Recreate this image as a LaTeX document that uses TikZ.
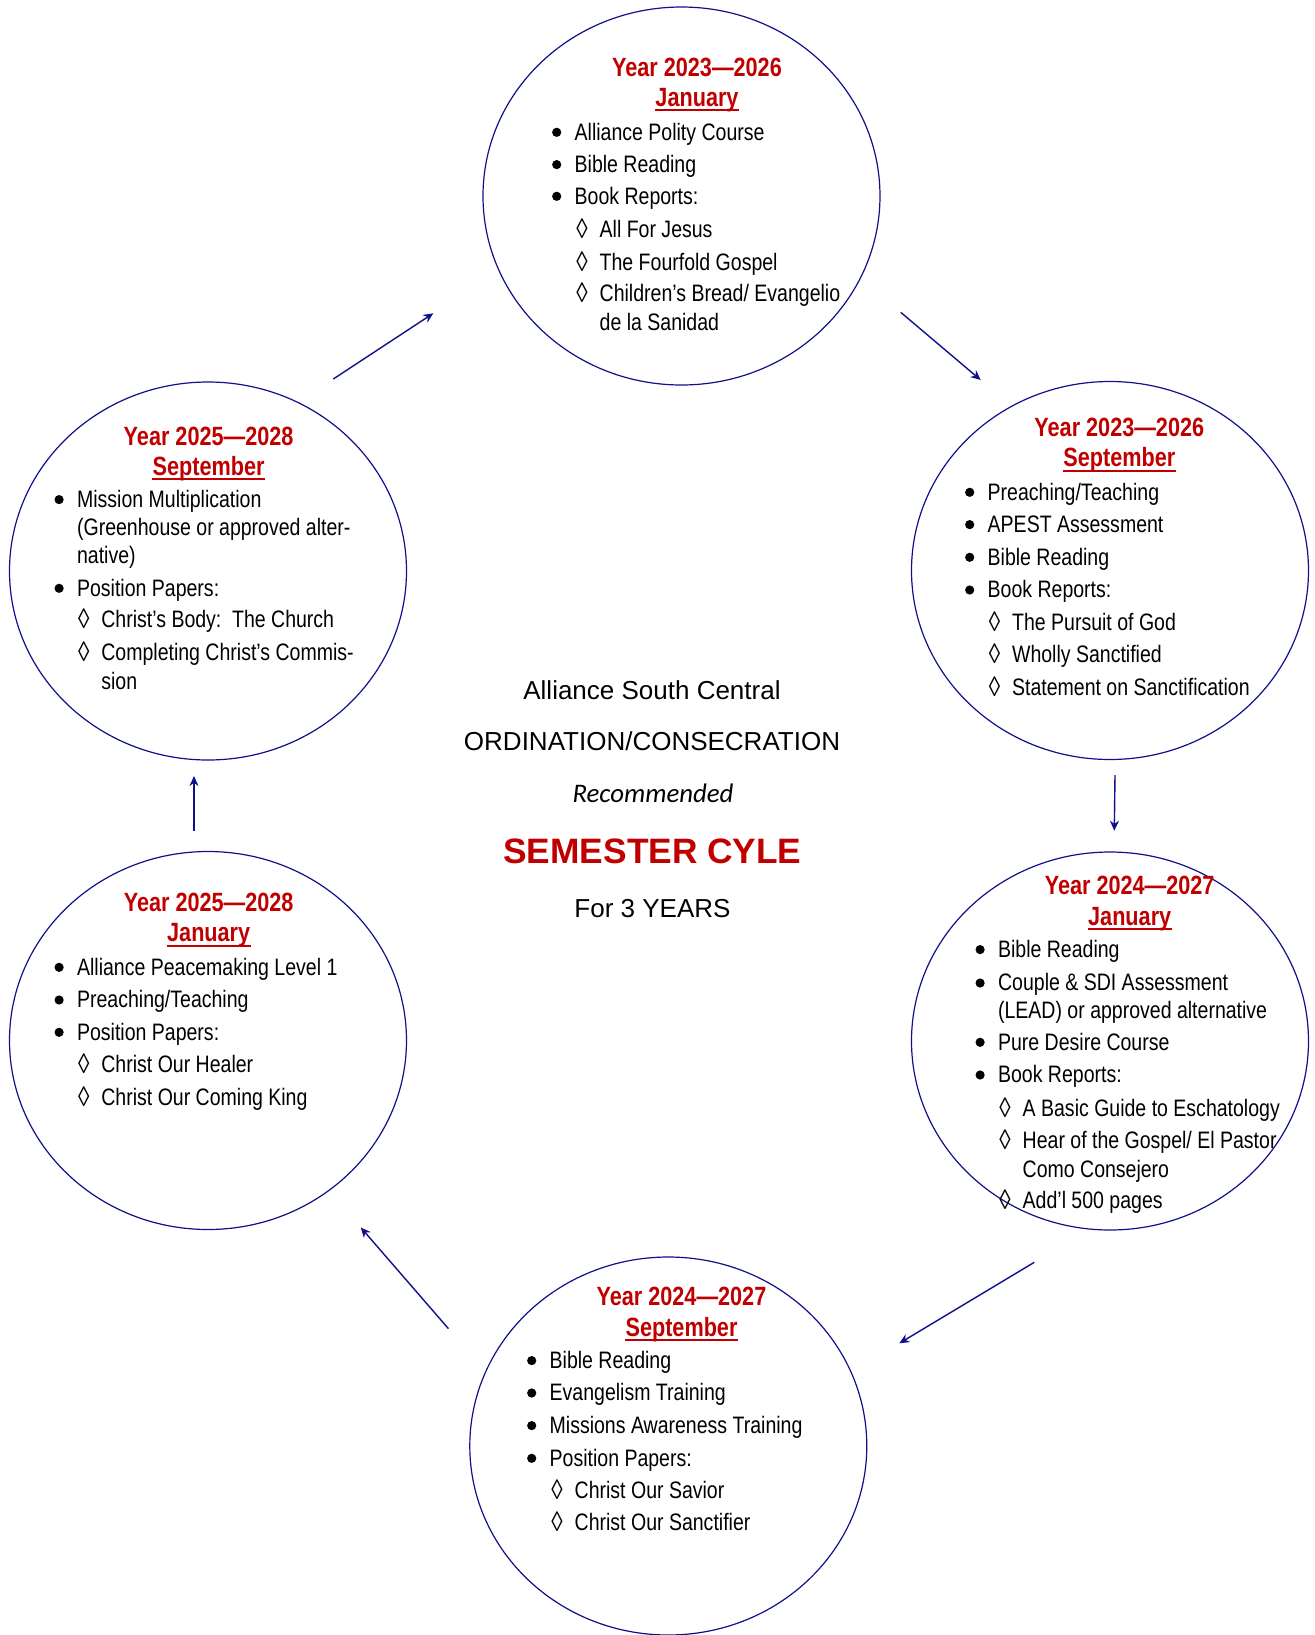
\documentclass[tikz,border=0pt]{standalone}
\usepackage{fontspec}
\setmainfont{Liberation Sans}[FakeStretch=0.82]
\newfontfamily\widefont{Liberation Sans}
\newfontfamily\calfont{Carlito}
\usetikzlibrary{shapes.geometric,arrows.meta}
\definecolor{cnavy}{HTML}{10108A}
\definecolor{cred}{HTML}{C00000}
\tikzset{
  semcirc/.style={draw=cnavy, line width=0.6pt, ellipse, inner sep=0pt,
    minimum width=198.5pt, minimum height=189pt},
  itm/.style={anchor=base west, inner sep=0pt, font=\fontsize{11.9pt}{14pt}\selectfont},
  ttl/.style={anchor=base, inner sep=0pt, text=cred, font=\fontsize{13.2pt}{15pt}\selectfont\bfseries},
  ctr/.style={anchor=base, inner sep=0pt, font=\widefont\fontsize{13pt}{15pt}\selectfont},
  cyc/.style={draw=cnavy, line width=0.7pt, -{Stealth[length=5pt,width=4.5pt]}},
  uline/.style={draw=cred, line width=1pt}
}
\newcommand\bulitem[4]{\node[itm] (#1) at (#2,#3) {#4};
  \fill ([xshift=-8.8pt,yshift=3.85pt]#1.base west) circle (4.6);}
\newcommand\diaitem[4]{\node[itm] (#1) at (#2,#3) {\llap{\makebox[8.8pt]{\raisebox{-0.6pt}{\fontsize{14pt}{14pt}\selectfont ◊}}\hspace{4.4pt}}#4};}
\newcommand\contline[4]{\node[itm] (#1) at (#2,#3) {#4};}
\newcommand\semtitle[6]{% prefix, x, y1, y2, year, month
  \node[ttl] (#1y) at (#2,#3) {#5};
  \node[ttl] (#1m) at (#2,#4) {#6};
  \draw[uline] ([yshift=-2pt]#1m.base west) -- ([yshift=-2pt]#1m.base east);}
\begin{document}
\begin{tikzpicture}[x=0.5pt,y=-0.5pt]
\useasboundingbox (0,0) rectangle (1314,1635);

% circles
\node[semcirc] (cT)  at (681.5,196) {};
\node[semcirc] (cRU) at (1110,570.5) {};
\node[semcirc] (cLU) at (208,571) {};
\node[semcirc] (cRL) at (1110,1041) {};
\node[semcirc] (cLL) at (208,1040.5) {};
\node[semcirc] (cB)  at (668.3,1446) {};

% top circle
\semtitle{T}{697}{76.7}{106}{Year 2023—2026}{January}
\bulitem{T1}{574.3}{140}{Alliance Polity Course}
\bulitem{T2}{574.3}{172.3}{Bible Reading}
\bulitem{T3}{574.3}{204}{Book Reports:}
\diaitem{T4}{599.3}{237.3}{All For Jesus}
\diaitem{T5}{599.3}{270}{The Fourfold Gospel}
\diaitem{T6}{599.3}{301.7}{Children’s Bread/ Evangelio}
\contline{T7}{599.3}{330.7}{de la Sanidad}

% right upper
\semtitle{RU}{1119.3}{436.7}{466.7}{Year 2023—2026}{September}
\bulitem{RU1}{987.3}{500}{Preaching/Teaching}
\bulitem{RU2}{987.3}{532.3}{APEST Assessment}
\bulitem{RU3}{987.3}{565}{Bible Reading}
\bulitem{RU4}{987.3}{597.7}{Book Reports:}
\diaitem{RU5}{1011.7}{630}{The Pursuit of God}
\diaitem{RU6}{1011.7}{662.7}{Wholly Sanctified}
\diaitem{RU7}{1011.7}{695}{Statement on Sanctification}

% left upper
\semtitle{LU}{208.6}{445}{475}{Year 2025—2028}{September}
\bulitem{LU1}{76.7}{507.3}{Mission Multiplication}
\contline{LU2}{76.7}{535.7}{(Greenhouse or approved alter-}
\contline{LU3}{76.7}{563.3}{native)}
\bulitem{LU4}{76.7}{596}{Position Papers:}
\diaitem{LU5}{101}{627.3}{Christ’s Body:\hspace{0.45em}The Church}
\diaitem{LU6}{101}{660}{Completing Christ’s Commis-}
\contline{LU7}{101}{689}{sion}

% right lower
\semtitle{RL}{1129.7}{894.3}{925}{Year 2024—2027}{January}
\bulitem{RL1}{997.7}{957.3}{Bible Reading}
\bulitem{RL2}{997.7}{990.7}{Couple \& SDI Assessment}
\contline{RL3}{997.7}{1018.3}{(LEAD) or approved alternative}
\bulitem{RL4}{997.7}{1050}{Pure Desire Course}
\bulitem{RL5}{997.7}{1082.7}{Book Reports:}
\diaitem{RL6}{1022.3}{1116}{A Basic Guide to Eschatology}
\diaitem{RL7}{1022.3}{1148.3}{Hear of the Gospel/ El Pastor}
\contline{RL8}{1022.3}{1177.3}{Como Consejero}
\diaitem{RL9}{1022.3}{1208.3}{Add’l 500 pages}

% left lower
\semtitle{LL}{208.7}{911}{941.7}{Year 2025—2028}{January}
\bulitem{LL1}{76.7}{975}{Alliance Peacemaking Level 1}
\bulitem{LL2}{76.7}{1007.7}{Preaching/Teaching}
\bulitem{LL3}{76.7}{1040}{Position Papers:}
\diaitem{LL4}{101}{1072.7}{Christ Our Healer}
\diaitem{LL5}{101}{1105.7}{Christ Our Coming King}

% bottom
\semtitle{B}{681.5}{1305.7}{1336}{Year 2024—2027}{September}
\bulitem{B1}{549.3}{1368.3}{Bible Reading}
\bulitem{B2}{549.3}{1400.7}{Evangelism Training}
\bulitem{B3}{549.3}{1433.3}{Missions Awareness Training}
\bulitem{B4}{549.3}{1466}{Position Papers:}
\diaitem{B5}{574.3}{1498.3}{Christ Our Savior}
\diaitem{B6}{574.3}{1530.7}{Christ Our Sanctifier}

% centre text
\node[ctr] (h1) at (652,699) {Alliance South Central};
\node[ctr] (h2) at (652,750) {ORDINATION/CONSECRATION};
\node[ctr, font=\calfont\itshape\fontsize{13.4pt}{15pt}\selectfont] (h3) at (653,802.7) {Recommended};
\node[ctr, text=cred, font=\widefont\bfseries\fontsize{17.65pt}{20pt}\selectfont] (h4) at (652.5,863) {SEMESTER CYLE};
\node[ctr] (h5) at (652.5,917.7) {For 3 YEARS};

% arrow end points
\coordinate (a1s) at (333.3,379);   \coordinate (a1e) at (433.3,313.3);
\coordinate (a2s) at (900.7,312.3); \coordinate (a2e) at (980.7,380);
\coordinate (a3s) at (1115,775);    \coordinate (a3e) at (1114.3,830.7);
\coordinate (a4s) at (1034.3,1262.3); \coordinate (a4e) at (899.3,1343.3);
\coordinate (a5s) at (448.4,1328.6); \coordinate (a5e) at (360.8,1227.5);
\coordinate (a6s) at (194,831);     \coordinate (a6e) at (194,776);
\draw[cyc] (a1s) -- (a1e);
\draw[cyc] (a2s) -- (a2e);
\draw[cyc] (a3s) -- (a3e);
\draw[cyc] (a4s) -- (a4e);
\draw[cyc] (a5s) -- (a5e);
\draw[cyc] (a6s) -- (a6e);
\end{tikzpicture}
\end{document}
